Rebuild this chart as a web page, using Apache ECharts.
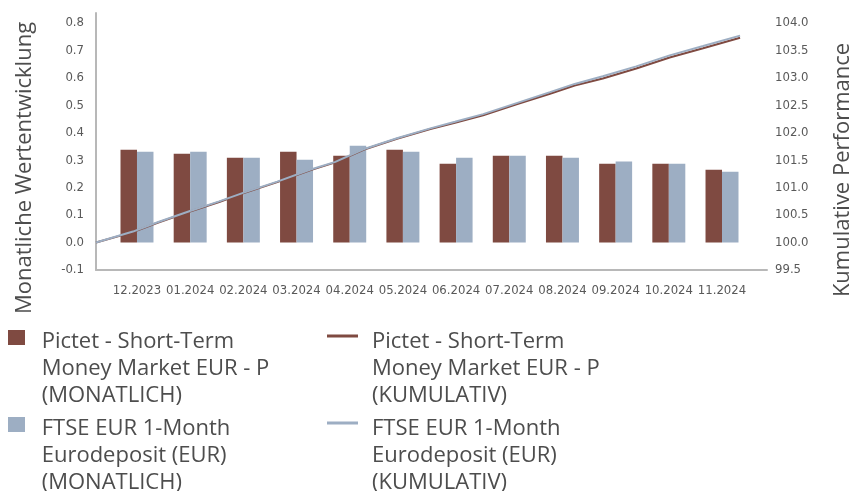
<!DOCTYPE html>
<html>
<head>
<meta charset="utf-8">
<script src="https://cdn.jsdelivr.net/npm/echarts@6/dist/echarts.min.js"></script>
<style>html,body{margin:0;padding:0;background:#fff;}#chart{width:849px;height:491px;}</style>
</head>
<body>
<div id="chart"></div>
<script>
const months = ['12.2023','01.2024','02.2024','03.2024','04.2024','05.2024','06.2024','07.2024','08.2024','09.2024','10.2024','11.2024'];
const fundMonthly = [0.338,0.324,0.309,0.331,0.316,0.338,0.287,0.316,0.316,0.287,0.287,0.265];
const benchMonthly = [0.331,0.331,0.309,0.302,0.353,0.331,0.309,0.316,0.309,0.295,0.287,0.258];
const lineDays = [0,21,35,53,70,84,103,122,136,152,171,190,204,220,239,258,272,288,307,326,345,366];
const fundCumulative = [100.00,100.19,100.36,100.56,100.74,100.90,101.10,101.32,101.46,101.69,101.89,102.07,102.18,102.32,102.52,102.71,102.86,102.99,103.17,103.37,103.54,103.73];
const benchCumulative = [100.00,100.20,100.37,100.57,100.75,100.91,101.11,101.33,101.47,101.70,101.90,102.08,102.20,102.34,102.54,102.74,102.89,103.03,103.21,103.41,103.58,103.77];
const leftTicks = {min: -0.1, interval: 0.1};
const rightTicks = {min: 99.5, interval: 0.5};

const nFundM = 'Pictet - Short-Term\nMoney Market EUR - P\n(MONATLICH)';
const nFundK = 'Pictet - Short-Term\nMoney Market EUR - P\n(KUMULATIV)';
const nBenchM = 'FTSE EUR 1-Month\nEurodeposit (EUR)\n(MONATLICH)';
const nBenchK = 'FTSE EUR 1-Month\nEurodeposit (EUR)\n(KUMULATIV)';

const BROWN = '#7f4a41';
const BLUE = '#9daec3';
const TXT = '#4d4d4d';
const AX = '#595959';
const tickFont = {fontFamily: '"DejaVu Sans Condensed","Liberation Sans Narrow",sans-serif', fontSize: 13, color: AX};
const textFont = '"Open Sans",sans-serif';

const chart = echarts.init(document.getElementById('chart'), null, {renderer: 'canvas'});
const legendText = {fontFamily: textFont, fontSize: 22, lineHeight: 27, color: TXT};
chart.setOption({
  animation: false,
  backgroundColor: '#fff',
  grid: [
    {left: 96, right: 82, top: 13, bottom: 221},
    {left: 110.4, right: 100.4, top: 13, bottom: 221}
  ],
  xAxis: [
    {type: 'value', gridIndex: 0, min: 0, max: 381.3, position: 'bottom',
     axisLine: {show: true, onZero: false, lineStyle: {color: '#b8b8b8', width: 2}},
     axisTick: {show: false}, axisLabel: {show: false}, splitLine: {show: false}},
    {type: 'category', gridIndex: 1, data: months, position: 'bottom',
     axisLine: {show: false}, axisTick: {show: false},
     axisLabel: Object.assign({margin: 14, interval: 0}, tickFont), splitLine: {show: false}}
  ],
  yAxis: [
    {type: 'value', gridIndex: 0, position: 'left', min: leftTicks.min, max: 0.83644, interval: leftTicks.interval,
     axisLine: {show: true, lineStyle: {color: '#b8b8b8', width: 2}}, axisTick: {show: false},
     splitLine: {show: false},
     axisLabel: Object.assign({margin: 12, showMaxLabel: false, formatter: v => v.toFixed(1)}, tickFont)},
    {type: 'value', gridIndex: 0, position: 'right', min: rightTicks.min, max: 104.182, interval: rightTicks.interval,
     axisLine: {show: false}, axisTick: {show: false}, splitLine: {show: false},
     axisLabel: Object.assign({margin: 8, showMaxLabel: false, formatter: v => v.toFixed(1)}, tickFont)},
    {type: 'value', gridIndex: 1, min: leftTicks.min, max: 0.83644, show: false, splitLine: {show: false}}
  ],
  legend: [
    {left: 8, top: 328, height: 200, padding: 0, orient: 'vertical', itemWidth: 28.7, itemHeight: 81, itemGap: 6, selectedMode: false,
     icon: 'path://M0,0h0.01v0.01h-0.01z M0,2h17v15h-17z M28.69,80.99h0.01v0.01h-0.01z',
     itemStyle: {borderWidth: 0}, textStyle: legendText, data: [nFundM, nBenchM]},
    {left: 327, top: 328, height: 200, padding: 0, orient: 'vertical', itemWidth: 40, itemHeight: 81, itemGap: 6, selectedMode: false,
     icon: 'path://M0,0h0.01v0.01h-0.01z M0,6.5h31v3h-31z M39.99,80.99h0.01v0.01h-0.01z',
     itemStyle: {borderWidth: 0}, textStyle: legendText, data: [nFundK, nBenchK]}
  ],
  graphic: [
    {type: 'text', x: 24.5, y: 168, rotation: Math.PI / 2,
     style: {text: 'Monatliche Wertentwicklung', fontFamily: textFont, fontSize: 22, fill: TXT, align: 'center', verticalAlign: 'middle'}},
    {type: 'text', x: 843, y: 170, rotation: Math.PI / 2,
     style: {text: 'Kumulative Performance', fontFamily: textFont, fontSize: 22, fill: TXT, align: 'center', verticalAlign: 'middle'}}
  ],
  series: [
    {name: nFundM, type: 'bar', xAxisIndex: 1, yAxisIndex: 2, data: fundMonthly,
     itemStyle: {color: BROWN}, barGap: '0%', barCategoryGap: '38%'},
    {name: nBenchM, type: 'bar', xAxisIndex: 1, yAxisIndex: 2, data: benchMonthly,
     itemStyle: {color: BLUE}, barGap: '0%', barCategoryGap: '38%'},
    {name: nFundK, type: 'line', xAxisIndex: 0, yAxisIndex: 1, showSymbol: false, symbol: 'none',
     data: lineDays.map((d, i) => [d, fundCumulative[i]]),
     lineStyle: {color: BROWN, width: 2}, itemStyle: {color: BROWN}},
    {name: nBenchK, type: 'line', xAxisIndex: 0, yAxisIndex: 1, showSymbol: false, symbol: 'none',
     data: lineDays.map((d, i) => [d, benchCumulative[i]]),
     lineStyle: {color: BLUE, width: 2}, itemStyle: {color: BLUE}}
  ]
});
</script>
</body>
</html>
